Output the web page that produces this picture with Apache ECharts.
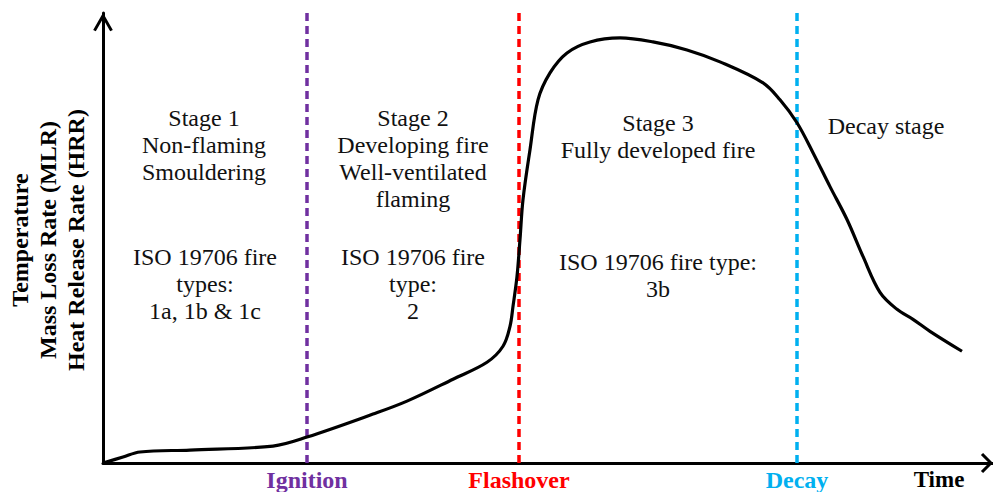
<!DOCTYPE html>
<html>
<head>
<meta charset="utf-8">
<script src="https://cdn.jsdelivr.net/npm/echarts@6/dist/echarts.min.js"></script>
<style>
html,body{margin:0;padding:0;background:#fff;}
#chart{width:993px;height:492px;}
</style>
</head>
<body>
<div id="chart"></div>
<script>
// ---- data (time units, response units) ----
var curveTime = [0, 20, 37, 87, 170, 204, 270, 304, 350, 384, 400, 407, 410, 414, 417, 420, 427, 435, 447, 464, 487, 517, 550, 584, 617, 660, 677, 694, 710, 727, 744, 760, 777, 794, 810, 827, 859];
var curveValue = [0, 6, 11, 13, 17, 26, 49, 62, 84, 101, 117, 137, 157, 187, 224, 264, 314, 364, 391, 411, 422, 426, 422, 414, 402, 381, 364, 341, 311, 277, 244, 207, 171, 154, 144, 132, 112];
var eventNames = ['Ignition', 'Flashover', 'Decay'];
var eventTimes = [204, 416, 694];
var eventColors = ['#7030A0', '#FF0000', '#00B0F0'];
var xName = 'Time';
var yNameLines = ['Temperature', 'Mass Loss Rate (MLR)', 'Heat Release Rate (HRR)'];
var annotations = [
  {x: 204, y: 118, lines: ['Stage 1', 'Non-flaming', 'Smouldering']},
  {x: 205, y: 257, lines: ['ISO 19706 fire', 'types:', '1a, 1b & 1c']},
  {x: 413, y: 118, lines: ['Stage 2', 'Developing fire', 'Well-ventilated', 'flaming']},
  {x: 413, y: 257, lines: ['ISO 19706 fire', 'type:', '2']},
  {x: 658, y: 123, lines: ['Stage 3', 'Fully developed fire']},
  {x: 658, y: 262, lines: ['ISO 19706 fire type:', '3b']},
  {x: 886, y: 126, lines: ['Decay stage']}
];

var serif = 'Liberation Serif';
var chart = echarts.init(document.getElementById('chart'), null, {renderer: 'svg'});

var seriesData = curveTime.map(function (t, i) { return [t, curveValue[i]]; });

var rich = {};
eventNames.forEach(function (n, i) {
  rich['e' + i] = {color: eventColors[i], fontFamily: serif, fontWeight: 'bold', fontSize: 24, lineHeight: 22};
});

var graphics = [];
annotations.forEach(function (a) {
  a.lines.forEach(function (ln, j) {
    graphics.push({
      type: 'text', x: a.x, y: a.y + j * 27, silent: true,
      style: {text: ln, fill: '#111', fontFamily: serif, fontWeight: 'normal', fontSize: 24, textAlign: 'center', textVerticalAlign: 'middle'}
    });
  });
});
yNameLines.forEach(function (ln, j) {
  graphics.push({
    type: 'text', x: 20 + j * 28, y: 240, rotation: Math.PI / 2, silent: true,
    style: {text: ln, fill: '#000', fontFamily: serif, fontWeight: 'bold', fontSize: 24, textAlign: 'center', textVerticalAlign: 'middle'}
  });
});
graphics.push({
  type: 'text', x: 939, y: 479, silent: true,
  style: {text: xName, fill: '#000', fontFamily: serif, fontWeight: 'bold', fontSize: 23, textAlign: 'center', textVerticalAlign: 'middle', lineHeight: 22}
});

var yArrow = 'path://M0,-3 L9.8,14.3 L7.2,15.7 L0,3 L-7.2,15.7 L-9.8,14.3 Z';
var xArrow = 'path://M0,-2.1 L10.1,7.9 L7.9,10.1 L0,2.1 L-7.9,10.1 L-10.1,7.9 Z';

chart.setOption({
  animation: false,
  backgroundColor: '#fff',
  grid: {left: 103, right: 0, top: 13, bottom: 28, containLabel: false},
  xAxis: {
    type: 'value', min: 0, max: 890,
    axisLine: {show: true, lineStyle: {color: '#000', width: 3}, symbol: ['none', xArrow], symbolSize: [20.2, 12.2], symbolOffset: [0, -6]},
    axisTick: {show: false},
    splitLine: {show: false},
    axisLabel: {
      show: true, customValues: eventTimes, margin: 6,
      formatter: function (v) {
        var i = eventTimes.indexOf(v);
        return i >= 0 ? '{e' + i + '|' + eventNames[i] + '}' : '';
      },
      rich: rich
    }
  },
  yAxis: {
    type: 'value', min: 0, max: 451,
    axisLine: {show: true, lineStyle: {color: '#000', width: 3}, symbol: ['none', yArrow], symbolSize: [19.6, 18.7], symbolOffset: [0, -9]},
    axisTick: {show: false},
    splitLine: {show: false},
    axisLabel: {show: false}
  },
  series: [{
    type: 'line',
    data: seriesData,
    smooth: 0.35,
    symbol: 'none',
    lineStyle: {color: '#000', width: 3.2},
    z: 5,
    markLine: {
      silent: true,
      symbol: ['none', 'none'],
      label: {show: false},
      data: eventTimes.map(function (t, i) {
        return {xAxis: t, lineStyle: {color: eventColors[i], type: [8, 5], width: 3.5}};
      })
    }
  }],
  graphic: graphics
});
</script>
</body>
</html>
